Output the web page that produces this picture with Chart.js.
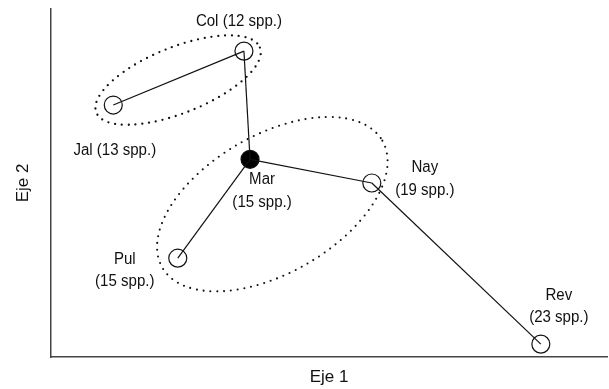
<!DOCTYPE html>
<html>
<head>
<meta charset="utf-8">
<script src="https://cdn.jsdelivr.net/npm/chart.js@4"></script>
<style>
  html, body { margin: 0; padding: 0; background: #fff; }
  #wrap { width: 609px; height: 389px; }
</style>
</head>
<body>
<div id="wrap"><canvas id="myChart"></canvas></div>
<script>
// sites of the ordination and their scores
var sites = ['Jal', 'Col', 'Mar', 'Nay', 'Pul', 'Rev'];
var species = [13, 12, 15, 19, 15, 23];
var eje1 = [11.2, 34.7, 35.8, 57.7, 22.8, 88.1];
var eje2 = [72.4, 87.9, 56.8, 50.0, 28.4, 3.7];
// tree links and dotted groups
var links = [['Jal', 'Col'], ['Col', 'Mar'], ['Mar', 'Pul'], ['Mar', 'Nay'], ['Nay', 'Rev']];
var groups = [['Jal', 'Col'], ['Mar', 'Nay', 'Pul']];
var filled = ['Mar'];

function pt(name) {
  var k = sites.indexOf(name);
  return {x: eje1[k], y: eje2[k]};
}

var datasets = [];
links.forEach(function (l) {
  datasets.push({
    type: 'line',
    data: [pt(l[0]), pt(l[1])],
    borderColor: '#111',
    borderWidth: 1.2,
    pointRadius: 0,
    fill: false
  });
});
datasets.push({
  type: 'scatter',
  data: sites.map(pt),
  pointRadius: 9,
  pointHoverRadius: 9,
  borderColor: '#111',
  borderWidth: 1.2,
  backgroundColor: sites.map(function (s) { return filled.indexOf(s) >= 0 ? '#000' : 'rgba(0,0,0,0)'; })
});

var ellipsePlugin = {
  id: 'ellipses',
  beforeDatasetsDraw: function (chart, args, opts) {
    var ctx = chart.ctx, xs = chart.scales.x, ys = chart.scales.y;
    groups.forEach(function (g, i) {
      var e = opts.shapes[i];
      var cx = 0, cy = 0;
      g.forEach(function (name) {
        var p = pt(name);
        cx += xs.getPixelForValue(p.x);
        cy += ys.getPixelForValue(p.y);
      });
      cx = cx / g.length + e.dx;
      cy = cy / g.length + e.dy;
      ctx.save();
      ctx.beginPath();
      ctx.ellipse(cx, cy, e.rx, e.ry, e.angle * Math.PI / 180, 0, 2 * Math.PI);
      ctx.setLineDash([0, e.gap]);
      ctx.lineCap = 'round';
      ctx.lineWidth = e.dot;
      ctx.strokeStyle = '#111';
      ctx.stroke();
      ctx.restore();
    });
  }
};

var labelPlugin = {
  id: 'siteLabels',
  afterDatasetsDraw: function (chart, args, opts) {
    var ctx = chart.ctx, xs = chart.scales.x, ys = chart.scales.y;
    ctx.save();
    ctx.font = opts.font;
    ctx.fillStyle = '#111';
    ctx.textAlign = 'center';
    ctx.textBaseline = 'middle';
    sites.forEach(function (s, k) {
      var o = opts.pos[s];
      var x = xs.getPixelForValue(eje1[k]) + o.dx;
      var y = ys.getPixelForValue(eje2[k]) + o.dy;
      var sp = '(' + species[k] + ' spp.)';
      ctx.save();
      ctx.translate(x, y);
      ctx.scale(opts.squeeze, 1);
      if (o.oneLine) {
        ctx.fillText(s + ' ' + sp, 0, 0);
      } else {
        ctx.fillText(s, 0, 0);
        ctx.fillText(sp, 0, opts.lineGap);
      }
      ctx.restore();
    });
    ctx.restore();
  }
};

var ctx = document.getElementById('myChart').getContext('2d');
var myChart = new Chart(ctx, {
  data: { datasets: datasets },
  plugins: [ellipsePlugin, labelPlugin],
  options: {
    responsive: true,
    maintainAspectRatio: false,
    animation: false,
    events: [],
    layout: { autoPadding: false, padding: { top: 9, right: 2, left: 0, bottom: 0 } },
    plugins: {
      legend: { display: false },
      tooltip: { enabled: false },
      ellipses: {
        shapes: [
          { dx: -0.5, dy: 2, rx: 88, ry: 33, angle: -21.7, gap: 6.8, dot: 2.3 },
          { dx: 5.8, dy: 4, rx: 127, ry: 69, angle: -30, gap: 6.8, dot: 2.1 }
        ]
      },
      siteLabels: {
        font: '16px "Liberation Sans", Arial, sans-serif',
        squeeze: 0.94,
        lineGap: 22.5,
        pos: {
          Jal: { dx: 1.5, dy: 46, oneLine: true },
          Col: { dx: -5, dy: -30, oneLine: true },
          Mar: { dx: 12, dy: 20.5 },
          Nay: { dx: 53, dy: -15 },
          Pul: { dx: -53, dy: 1 },
          Rev: { dx: 18, dy: -49 }
        }
      }
    },
    scales: {
      x: {
        type: 'linear',
        min: 0,
        max: 100,
        grid: { display: false },
        border: { display: true, color: '#444', width: 1.5 },
        ticks: { display: false },
        title: {
          display: true,
          text: 'Eje 1',
          color: '#111',
          font: { family: '"Liberation Sans", Arial, sans-serif', size: 17 },
          padding: { top: 0, bottom: 1 }
        },
        afterFit: function (scale) { scale.height = 32; }
      },
      y: {
        type: 'linear',
        min: 0,
        max: 100,
        grid: { display: false },
        border: { display: true, color: '#444', width: 1.5 },
        ticks: { display: false },
        title: {
          display: true,
          text: 'Eje 2',
          color: '#111',
          font: { family: '"Liberation Sans", Arial, sans-serif', size: 17 },
          padding: { top: 13, bottom: 0 }
        },
        afterFit: function (scale) { scale.width = 51; }
      }
    }
  }
});
</script>
</body>
</html>
